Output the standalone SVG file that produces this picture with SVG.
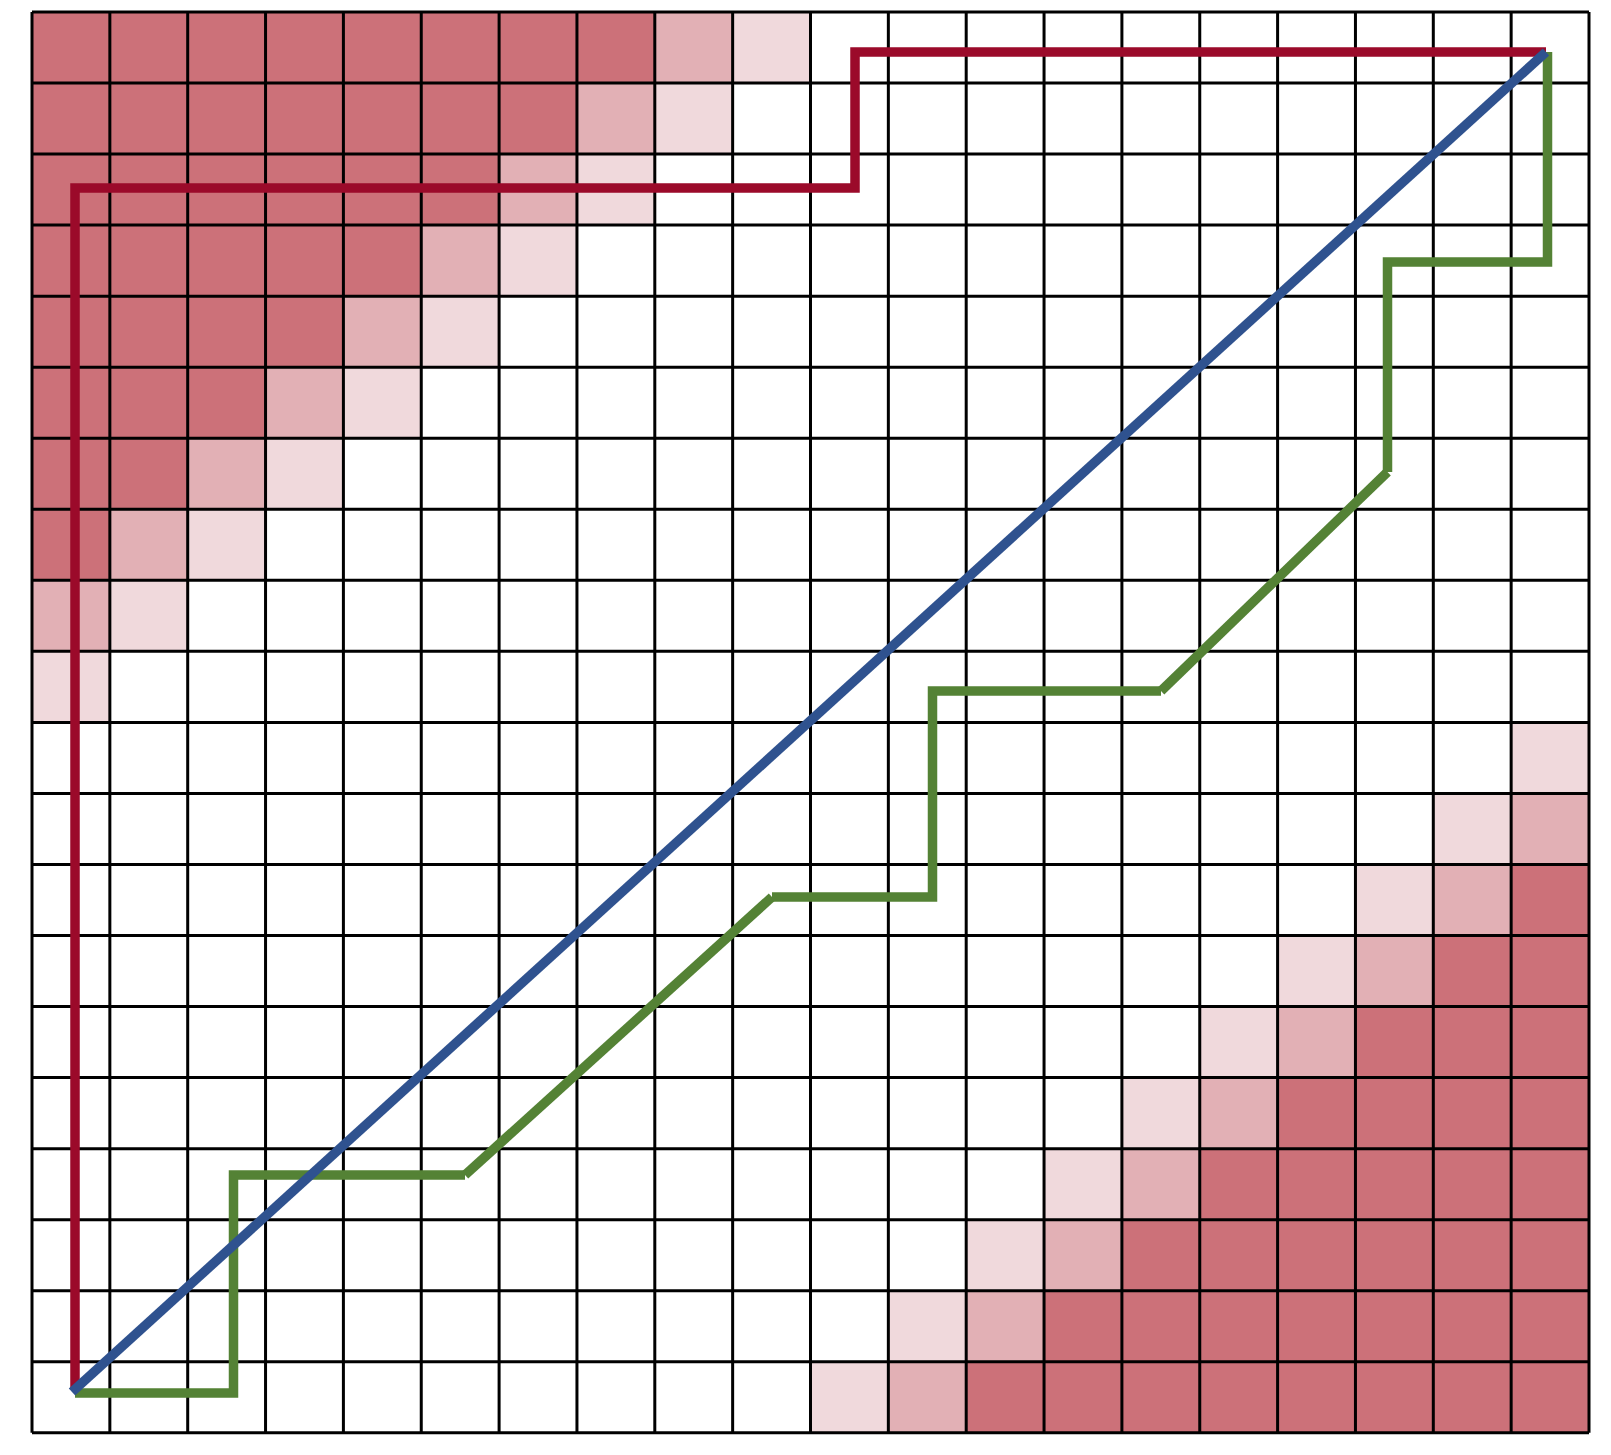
<svg xmlns="http://www.w3.org/2000/svg" width="1611" height="1455" viewBox="0 0 1611 1455">
<style>
.d{fill:#CC7179}
.m{fill:#E2B0B5}
.l{fill:#F0D9DC}
.g{stroke:#000;stroke-width:3;fill:none}
.p{fill:none;stroke-width:9.5;stroke-linejoin:miter;stroke-linecap:butt}
</style>
<rect width="1611" height="1455" fill="#fff"/>
<g id="cells">
<!-- top-left: dark c+r<=7, medium c+r=8, light c+r=9 -->
<rect class="d" x="32" y="12" width="622.8" height="71.04"/>
<rect class="m" x="654.8" y="12" width="77.85" height="71.04"/>
<rect class="l" x="732.65" y="12" width="77.85" height="71.04"/>
<rect class="d" x="32" y="83.04" width="544.95" height="71.04"/>
<rect class="m" x="576.95" y="83.04" width="77.85" height="71.04"/>
<rect class="l" x="654.8" y="83.04" width="77.85" height="71.04"/>
<rect class="d" x="32" y="154.08" width="467.1" height="71.04"/>
<rect class="m" x="499.1" y="154.08" width="77.85" height="71.04"/>
<rect class="l" x="576.95" y="154.08" width="77.85" height="71.04"/>
<rect class="d" x="32" y="225.12" width="389.25" height="71.04"/>
<rect class="m" x="421.25" y="225.12" width="77.85" height="71.04"/>
<rect class="l" x="499.1" y="225.12" width="77.85" height="71.04"/>
<rect class="d" x="32" y="296.16" width="311.4" height="71.04"/>
<rect class="m" x="343.4" y="296.16" width="77.85" height="71.04"/>
<rect class="l" x="421.25" y="296.16" width="77.85" height="71.04"/>
<rect class="d" x="32" y="367.2" width="233.55" height="71.04"/>
<rect class="m" x="265.55" y="367.2" width="77.85" height="71.04"/>
<rect class="l" x="343.4" y="367.2" width="77.85" height="71.04"/>
<rect class="d" x="32" y="438.24" width="155.7" height="71.04"/>
<rect class="m" x="187.7" y="438.24" width="77.85" height="71.04"/>
<rect class="l" x="265.55" y="438.24" width="77.85" height="71.04"/>
<rect class="d" x="32" y="509.28" width="77.85" height="71.04"/>
<rect class="m" x="109.85" y="509.28" width="77.85" height="71.04"/>
<rect class="l" x="187.7" y="509.28" width="77.85" height="71.04"/>
<rect class="m" x="32" y="580.32" width="77.85" height="71.04"/>
<rect class="l" x="109.85" y="580.32" width="77.85" height="71.04"/>
<rect class="l" x="32" y="651.36" width="77.85" height="71.04"/>
<!-- bottom-right: light c+r=29, medium 30, dark >=31 -->
<rect class="l" x="1511.15" y="722.4" width="77.85" height="71.04"/>
<rect class="l" x="1433.3" y="793.44" width="77.85" height="71.04"/>
<rect class="m" x="1511.15" y="793.44" width="77.85" height="71.04"/>
<rect class="l" x="1355.45" y="864.48" width="77.85" height="71.04"/>
<rect class="m" x="1433.3" y="864.48" width="77.85" height="71.04"/>
<rect class="d" x="1511.15" y="864.48" width="77.85" height="71.04"/>
<rect class="l" x="1277.6" y="935.52" width="77.85" height="71.04"/>
<rect class="m" x="1355.45" y="935.52" width="77.85" height="71.04"/>
<rect class="d" x="1433.3" y="935.52" width="155.7" height="71.04"/>
<rect class="l" x="1199.75" y="1006.56" width="77.85" height="71.04"/>
<rect class="m" x="1277.6" y="1006.56" width="77.85" height="71.04"/>
<rect class="d" x="1355.45" y="1006.56" width="233.55" height="71.04"/>
<rect class="l" x="1121.9" y="1077.6" width="77.85" height="71.04"/>
<rect class="m" x="1199.75" y="1077.6" width="77.85" height="71.04"/>
<rect class="d" x="1277.6" y="1077.6" width="311.4" height="71.04"/>
<rect class="l" x="1044.05" y="1148.64" width="77.85" height="71.04"/>
<rect class="m" x="1121.9" y="1148.64" width="77.85" height="71.04"/>
<rect class="d" x="1199.75" y="1148.64" width="389.25" height="71.04"/>
<rect class="l" x="966.2" y="1219.68" width="77.85" height="71.04"/>
<rect class="m" x="1044.05" y="1219.68" width="77.85" height="71.04"/>
<rect class="d" x="1121.9" y="1219.68" width="467.1" height="71.04"/>
<rect class="l" x="888.35" y="1290.72" width="77.85" height="71.04"/>
<rect class="m" x="966.2" y="1290.72" width="77.85" height="71.04"/>
<rect class="d" x="1044.05" y="1290.72" width="544.95" height="71.04"/>
<rect class="l" x="810.5" y="1361.76" width="77.85" height="71.04"/>
<rect class="m" x="888.35" y="1361.76" width="77.85" height="71.04"/>
<rect class="d" x="966.2" y="1361.76" width="622.8" height="71.04"/>
</g>
<g id="grid" class="g">
<path d="M32 12V1432.8M109.85 12V1432.8M187.7 12V1432.8M265.55 12V1432.8M343.4 12V1432.8M421.25 12V1432.8M499.1 12V1432.8M576.95 12V1432.8M654.8 12V1432.8M732.65 12V1432.8M810.5 12V1432.8M888.35 12V1432.8M966.2 12V1432.8M1044.05 12V1432.8M1121.9 12V1432.8M1199.75 12V1432.8M1277.6 12V1432.8M1355.45 12V1432.8M1433.3 12V1432.8M1511.15 12V1432.8M1589 12V1432.8"/>
<path d="M32 12H1589M32 83.04H1589M32 154.08H1589M32 225.12H1589M32 296.16H1589M32 367.2H1589M32 438.24H1589M32 509.28H1589M32 580.32H1589M32 651.36H1589M32 722.4H1589M32 793.44H1589M32 864.48H1589M32 935.52H1589M32 1006.56H1589M32 1077.6H1589M32 1148.64H1589M32 1219.68H1589M32 1290.72H1589M32 1361.76H1589M32 1432.8H1589"/>
</g>
<g id="connectors">
<polyline id="red" class="p" stroke="#9B0A2A" points="75,1388 75,188 855,188 855,52 1546,52"/>
<polyline id="green-1" class="p" stroke="#548235" points="75,1393 233.5,1393 233.5,1175 465,1175"/>
<line class="p" stroke="#548235" x1="465" y1="1175" x2="772" y2="897"/>
<polyline id="green-2" class="p" stroke="#548235" points="772,897 932.5,897 932.5,691 1161,691"/>
<line class="p" stroke="#548235" x1="1161" y1="691" x2="1387.5" y2="472"/>
<polyline id="green-3" class="p" stroke="#548235" points="1387.5,472 1387.5,262 1547.5,262 1547.5,52"/>
<line id="blue" class="p" stroke="#2F528F" x1="72" y1="1392" x2="1546" y2="52"/>
</g>
</svg>
